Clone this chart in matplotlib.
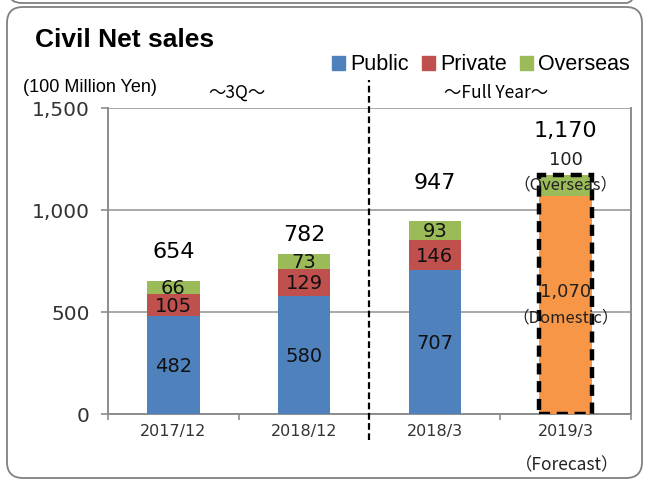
import matplotlib
matplotlib.use("Agg")
import matplotlib.pyplot as plt
from matplotlib.patches import FancyBboxPatch, Rectangle
import numpy as np

plt.rcParams['font.family'] = ['Liberation Sans', 'DejaVu Sans']

categories = ["2017/12", "2018/12", "2018/3", "2019/3"]
public = [482, 580, 707]
private = [105, 129, 146]
overseas = [66, 73, 93]
totals = [654, 782, 947, 1170]
forecast_domestic = 1070
forecast_overseas = 100
yticks = [0, 500, 1000, 1500]
ytick_labels = ["0", "500", "1,000", "1,500"]

# label placement (layout only)
total_offsets = [140, 95, 185, 217]

c_pub = "#4F81BD"
c_pri = "#C0504D"
c_ovs = "#9BBB59"
c_dom = "#F79646"
NUMF = ['DejaVu Sans']
CJK = ['Noto Sans CJK JP', 'DejaVu Sans']

fig = plt.figure(figsize=(6.45, 4.8), dpi=100)

# overlay in pixel coordinates for frames
bg = fig.add_axes([0, 0, 1, 1], zorder=-5)
bg.set_xlim(0, 645)
bg.set_ylim(480, 0)
bg.axis("off")
bg.add_patch(FancyBboxPatch((7, 7), 635, 471, boxstyle="round,pad=0,rounding_size=16",
                            fill=False, edgecolor="#808080", lw=1.3))
bg.add_patch(FancyBboxPatch((8, -60), 632, 63, boxstyle="round,pad=0,rounding_size=14",
                            fill=False, edgecolor="#808080", lw=1.3))

ax = fig.add_axes([0.1674, 0.1375, 0.8109, 0.6375])
x = np.arange(len(categories))
w = 0.4
n = len(public)
ax.bar(x[:n], public, w, color=c_pub, zorder=3)
ax.bar(x[:n], private, w, bottom=public, color=c_pri, zorder=3)
b2 = [p + q for p, q in zip(public, private)]
ax.bar(x[:n], overseas, w, bottom=b2, color=c_ovs, zorder=3)
ax.bar(x[3], forecast_domestic, w, color=c_dom, zorder=3)
ax.bar(x[3], forecast_overseas, w, bottom=forecast_domestic, color=c_ovs, zorder=3)
ax.bar(x[3], forecast_domestic + forecast_overseas, w, fill=False, edgecolor="black",
       lw=3.2, linestyle=(0, (2.5, 1.5)), zorder=4)

lf = 14
for i in range(n):
    ax.text(x[i], public[i] / 2 - 8, f"{public[i]}", ha="center", va="center", fontsize=lf,
            family=NUMF, color="#111111", zorder=5)
    ax.text(x[i], public[i] + private[i] / 2 - 6, f"{private[i]}", ha="center", va="center", fontsize=lf,
            family=NUMF, color="#111111", zorder=5)
    ax.text(x[i], b2[i] + overseas[i] / 2 - 4, f"{overseas[i]}", ha="center", va="center", fontsize=lf,
            family=NUMF, color="#111111", zorder=5)
for i, t in enumerate(totals):
    ax.text(x[i], t + total_offsets[i], f"{t:,}", ha="center", va="center", fontsize=16,
            family=NUMF, zorder=5)

top = forecast_domestic + forecast_overseas
ax.text(x[3], top + 75, f"{forecast_overseas}", ha="center", va="center", fontsize=13,
        family=NUMF, color="#222222", zorder=5)
ax.text(x[3], top - 47, "（Overseas）", ha="center", va="center", fontsize=12, family=CJK,
        color="#222222", zorder=5)
ax.text(x[3], 598, f"{forecast_domestic:,}", ha="center", va="center", fontsize=13,
        family=NUMF, color="#222222", zorder=5)
ax.text(x[3], 471, "（Domestic）", ha="center", va="center", fontsize=12, family=CJK,
        color="#222222", zorder=5)

ax.set_xlim(-0.5, 3.5)
ax.set_ylim(0, 1500)
ax.set_yticks(yticks)
ax.set_yticklabels(ytick_labels, fontsize=14.5, color="#333333", family=NUMF)
ax.set_xticks(x)
ax.set_xticklabels(categories, fontsize=11.5, color="#333333", family=NUMF)
ax.tick_params(axis="x", length=0, pad=7)
ax.set_xticks(np.arange(-0.5, 4.0, 1.0), minor=True)
ax.tick_params(axis="x", which="minor", length=4, color="#8c8c8c", direction="out", width=1.2)
ax.tick_params(axis="y", length=5, color="#8c8c8c", pad=8, width=1.2)
ax.grid(axis="y", color="#9a9a9a", lw=1.2, zorder=0)
for s in ax.spines.values():
    s.set_color("#8c8c8c")
    s.set_linewidth(1.4)
ax.spines["top"].set_visible(False)

# dashed separator between 3Q and full-year groups
ax.plot([1.5, 1.5], [-128, 1637], color="black", lw=1.6, linestyle=(0, (3, 1.6)),
        clip_on=False, zorder=6)

fig.text(35 / 645, 1 - 40 / 480, "Civil Net sales", fontsize=19, fontweight="bold", va="center")
fig.text(90 / 645, 1 - 87 / 480, "(100 Million Yen)", fontsize=13, va="center", ha="center")
fig.text(237 / 645, 1 - 93 / 480, "～3Q～", fontsize=12.5, va="center", ha="center", family=CJK)
fig.text(496 / 645, 1 - 93 / 480, "～Full Year～", fontsize=12.5, va="center", ha="center", family=CJK)
fig.text(567 / 645, 1 - 465 / 480, "（Forecast）", fontsize=12.5, va="center", ha="center", family=CJK,
         color="#222222")

handles = [Rectangle((0, 0), 1, 1, color=c) for c in (c_pub, c_pri, c_ovs)]
fig.legend(handles, ["Public", "Private", "Overseas"], loc="center right",
           bbox_to_anchor=(630 / 645, 1 - 65 / 480),
           ncol=3, frameon=False, fontsize=15.5, handlelength=0.6, handleheight=0.6, handletextpad=0.25,
           columnspacing=0.6, borderpad=0, borderaxespad=0)

fig.savefig("out.png", dpi=100)
